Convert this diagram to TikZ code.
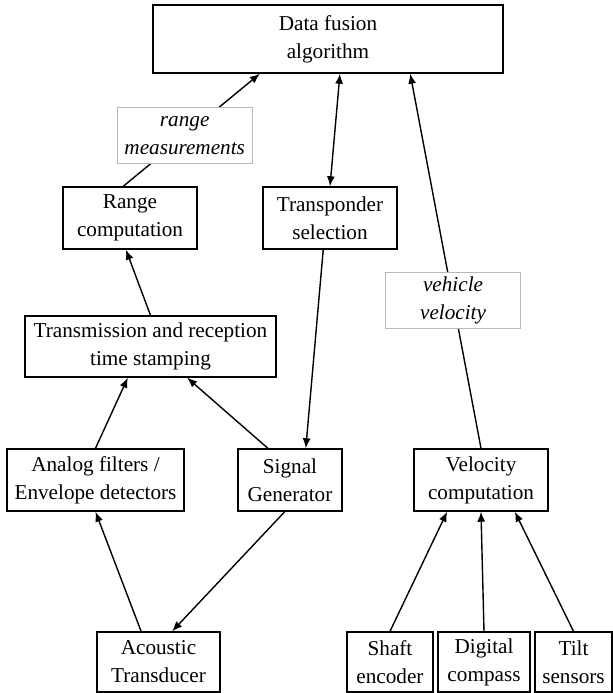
\documentclass[tikz,border=0pt]{standalone}
\usepackage{fontspec}
\setmainfont{Liberation Serif}
\usetikzlibrary{calc, arrows.meta}

\begin{document}
\begin{tikzpicture}[x = 0.5pt, y = -0.5pt, line width = 0.7pt,
        >={Latex[length = 5pt, width = 4pt]},
        box/.style = {draw, align = center, inner sep = 0pt,
            minimum height = 31pt, font = \fontsize{10.6}{14}\selectfont},
        tag/.style = {box, draw = gray!55, line width = 0.4pt, fill = white,
            minimum width = 67.5pt, minimum height = 28pt,
            font = \fontsize{10.6}{14}\selectfont\itshape}]
        \useasboundingbox (0, 0) rectangle (613, 693);
        \node[box, minimum width = 175pt, minimum height = 34pt]
            at (328, 39) (fusion) {Data fusion\\algorithm};
        \node[box, minimum width = 67pt] at (130, 218) (rangecomp) {Range\\computation};
        \node[box, minimum width = 67pt] at (330, 218) (transponder) {Transponder\\selection};
        \node[box, minimum width = 125.5pt, minimum height = 30.5pt]
            at (150.5, 346.5) (stamping) {Transmission and reception\\time stamping};
        \node[box, minimum width = 88.5pt] at (95.5, 480) (filters) {Analog filters /\\Envelope detectors};
        \node[box, minimum width = 52pt] at (290, 480) (generator) {Signal\\Generator};
        \node[box, minimum width = 67pt] at (481, 480) (velocity) {Velocity\\computation};
        % sensors
        \node[box, minimum width = 61.5pt, minimum height = 30pt]
            at (158.5, 662) (transducer) {Acoustic\\Transducer};
        \node[box, minimum width = 43pt, minimum height = 30pt] at (390, 662) (shaft) {Shaft\\encoder};
        \node[box, minimum width = 46pt, minimum height = 30pt] at (484, 662) (compass) {Digital\\compass};
        \node[box, minimum width = 38.5pt, minimum height = 30pt] at (573.5, 662) (tilt) {Tilt\\sensors};
        % connections
        \draw[->]
            ($ (rangecomp.north west)!0.45!(rangecomp.north east) $)
            -- node[tag, pos = 0.45] (rangetag) {range\\measurements}
            ($ (fusion.south west)!0.306!(fusion.south east) $);
        \draw[<->] (transponder.north)
            -- ($ (fusion.south west)!0.534!(fusion.south east) $);
        \draw[->] (velocity.north)
            -- node[tag, pos = 0.395] (velocitytag) {vehicle\\velocity}
            ($ (fusion.south west)!0.734!(fusion.south east) $);
        \draw[->]
            ($ (transponder.south west)!0.45!(transponder.south east) $)
            -- ($ (generator.north west)!0.65!(generator.north east) $);
        \draw[->] (stamping.north)
            -- ($ (rangecomp.south west)!0.47!(rangecomp.south east) $);
        \draw[->] (filters.north)
            -- ($ (stamping.south west)!0.41!(stamping.south east) $);
        \draw[->]
            ($ (generator.north west)!0.29!(generator.north east) $)
            -- ($ (stamping.south west)!0.645!(stamping.south east) $);
        \draw[->]
            ($ (transducer.north west)!0.36!(transducer.north east) $)
            -- (filters.south);
        \draw[->]
            ($ (generator.south west)!0.45!(generator.south east) $)
            -- ($ (transducer.north west)!0.61!(transducer.north east) $);
        \draw[->] (shaft.north)
            -- ($ (velocity.south west)!0.25!(velocity.south east) $);
        \draw[->] (compass.north) -- (velocity.south);
        \draw[->] (tilt.north)
            -- ($ (velocity.south west)!0.75!(velocity.south east) $);
    \end{tikzpicture}
\end{document}
